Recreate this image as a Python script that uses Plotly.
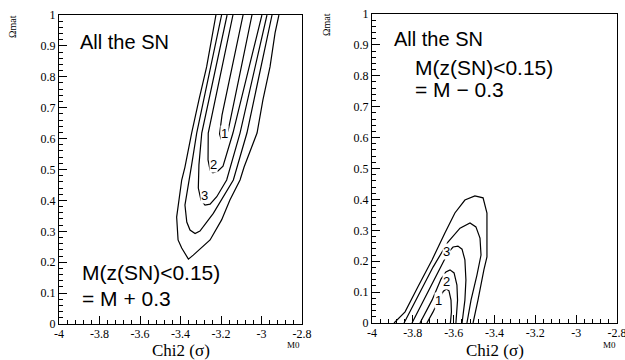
import plotly.graph_objects as go

# ---------------- axis ticks ----------------
X_TICKS = [-4, -3.8, -3.6, -3.4, -3.2, -3, -2.8]
X_TICKTEXT = ["-4", "-3.8", "-3.6", "-3.4", "-3.2", "-3", "-2.8"]
Y_TICKS = [0, 0.1, 0.2, 0.3, 0.4, 0.5, 0.6, 0.7, 0.8, 0.9, 1]
Y_TICKTEXT = ["0", "0.1", "0.2", "0.3", "0.4", "0.5", "0.6", "0.7", "0.8", "0.9", "1"]

# ---------------- left panel contours (M0, Omega_mat) ----------------
L1_X = [-3.091, -3.151, -3.195, -3.207, -3.200, -3.185, -3.165, -3.106, -3.047]
L1_Y = [1.0, 0.809, 0.676, 0.615, 0.599, 0.605, 0.625, 0.812, 1.0]

L2_X = [-3.141, -3.263, -3.264, -3.254, -3.240, -3.215, -3.190, -3.141, -2.998]
L2_Y = [1.0, 0.618, 0.531, 0.498, 0.489, 0.495, 0.511, 0.618, 1.0]

L3_X = [-3.170, -3.295, -3.309, -3.312, -3.299, -3.279, -3.254, -3.221, -3.172, -3.106, -2.973]
L3_Y = [1.0, 0.618, 0.515, 0.440, 0.401, 0.385, 0.388, 0.412, 0.466, 0.618, 1.0]

L4_X = [-3.197, -3.320, -3.345, -3.361, -3.378, -3.369, -3.353, -3.328, -3.304, -3.238, -3.139, -3.072, -2.948]
L4_Y = [1.0, 0.618, 0.515, 0.450, 0.385, 0.330, 0.304, 0.293, 0.301, 0.358, 0.466, 0.618, 1.0]

L5_X = [-3.225, -3.240, -3.271, -3.309, -3.345, -3.378, -3.394, -3.419, -3.412, -3.394, -3.361,
        -3.337, -3.254, -3.197, -3.156, -3.106, -3.086, -3.022, -2.993, -2.958, -2.933, -2.914]
L5_Y = [1.0, 0.942, 0.832, 0.725, 0.618, 0.508, 0.466, 0.346, 0.272, 0.246, 0.210,
        0.223, 0.272, 0.337, 0.401, 0.466, 0.508, 0.618, 0.725, 0.832, 0.942, 1.0]

# ---------------- right panel contours ----------------
R1_X = [-3.731, -3.701, -3.667, -3.650, -3.636, -3.623, -3.613, -3.611, -3.616]
R1_Y = [0.0, 0.036, 0.084, 0.103, 0.110, 0.104, 0.074, 0.036, 0.0]

R2_X = [-3.765, -3.706, -3.662, -3.638, -3.618, -3.598, -3.584, -3.581, -3.589]
R2_Y = [0.0, 0.074, 0.142, 0.165, 0.172, 0.162, 0.123, 0.074, 0.0]

R3_X = [-3.804, -3.740, -3.677, -3.628, -3.603, -3.579, -3.559, -3.545, -3.540, -3.545, -3.559]
R3_Y = [0.0, 0.084, 0.168, 0.227, 0.246, 0.249, 0.239, 0.204, 0.139, 0.074, 0.0]

R4_X = [-3.843, -3.775, -3.701, -3.628, -3.569, -3.520, -3.491, -3.471, -3.466, -3.486, -3.515, -3.535]
R4_Y = [0.0, 0.087, 0.181, 0.262, 0.307, 0.324, 0.311, 0.275, 0.220, 0.155, 0.074, 0.0]

R5_X = [-3.892, -3.838, -3.775, -3.706, -3.643, -3.594, -3.545, -3.496, -3.456, -3.437, -3.437,
        -3.452, -3.481, -3.505]
R5_Y = [0.0, 0.036, 0.117, 0.204, 0.291, 0.356, 0.398, 0.411, 0.405, 0.356, 0.214,
        0.172, 0.074, 0.0]

# contour level labels: (text, x, y)
LEFT_LABELS = [("1", -3.185, 0.618), ("2", -3.235, 0.515), ("3", -3.281, 0.417)]
RIGHT_LABELS = [("1", -3.675, 0.074), ("2", -3.633, 0.133), ("3", -3.633, 0.233)]

W, H = 625, 360
SERIF = "Liberation Serif, Times New Roman, serif"
SANS = "Liberation Sans, Arial, Helvetica, sans-serif"

fig = go.Figure()

line_style = dict(color="black", width=1.2)
for xs, ys in [(L1_X, L1_Y), (L2_X, L2_Y), (L3_X, L3_Y), (L4_X, L4_Y), (L5_X, L5_Y)]:
    fig.add_trace(go.Scatter(x=xs, y=ys, mode="lines", line=line_style,
                             xaxis="x", yaxis="y", showlegend=False, hoverinfo="skip"))
for xs, ys in [(R1_X, R1_Y), (R2_X, R2_Y), (R3_X, R3_Y), (R4_X, R4_Y), (R5_X, R5_Y)]:
    fig.add_trace(go.Scatter(x=xs, y=ys, mode="lines", line=line_style,
                             xaxis="x2", yaxis="y2", showlegend=False, hoverinfo="skip"))


def px_x(p):
    return p / W


def px_y(p):
    return 1 - p / H


def xaxis_cfg(domain, anchor):
    return dict(domain=domain, anchor=anchor, range=[-4, -2.8],
                tickmode="array", tickvals=X_TICKS, ticktext=X_TICKTEXT,
                ticks="inside", ticklen=8, tickwidth=1, tickcolor="black",
                minor=dict(tick0=-4, dtick=0.04, ticks="inside", ticklen=4,
                           tickcolor="black", tickwidth=1),
                showline=True, linecolor="black", linewidth=1.3, mirror=True,
                showgrid=False, zeroline=False, ticklabeloverflow="allow",
                ticklabelstandoff=-2,
                tickfont=dict(family=SERIF, size=12, color="black"))


def yaxis_cfg(domain, anchor):
    return dict(domain=domain, anchor=anchor, range=[0, 1],
                tickmode="array", tickvals=Y_TICKS, ticktext=Y_TICKTEXT,
                ticks="inside", ticklen=8, tickwidth=1, tickcolor="black",
                minor=dict(tick0=0, dtick=0.02, ticks="inside", ticklen=4,
                           tickcolor="black", tickwidth=1),
                showline=True, linecolor="black", linewidth=1.3, mirror=True,
                showgrid=False, zeroline=False, ticklabeloverflow="allow",
                tickfont=dict(family=SERIF, size=12, color="black"))


annotations = []
# contour labels
for txt, x, y in LEFT_LABELS:
    annotations.append(dict(x=x, y=y, xref="x", yref="y", text=txt, showarrow=False,
                            font=dict(family=SANS, size=13, color="black"),
                            bgcolor="white", borderpad=0))
for txt, x, y in RIGHT_LABELS:
    annotations.append(dict(x=x, y=y, xref="x2", yref="y2", text=txt, showarrow=False,
                            font=dict(family=SANS, size=13, color="black"),
                            bgcolor="white", borderpad=0))

f_sn = dict(family=SANS, size=20, color="black")
f_m = dict(family=SANS, size=21, color="black")
annotations += [
    dict(x=-3.906, y=0.913, xref="x", yref="y", text="All the SN", showarrow=False,
         xanchor="left", yanchor="middle", font=f_sn),
    dict(x=-3.896, y=0.168, xref="x", yref="y", text="M(z(SN)<0.15)", showarrow=False,
         xanchor="left", yanchor="middle", font=f_m),
    dict(x=-3.896, y=0.081, xref="x", yref="y", text="= M + 0.3", showarrow=False,
         xanchor="left", yanchor="middle", font=f_m),
    dict(x=-3.902, y=0.919, xref="x2", yref="y2", text="All the SN", showarrow=False,
         xanchor="left", yanchor="middle", font=f_sn),
    dict(x=-3.799, y=0.828, xref="x2", yref="y2", text="M(z(SN)<0.15)", showarrow=False,
         xanchor="left", yanchor="middle", font=f_m),
    dict(x=-3.799, y=0.757, xref="x2", yref="y2", text="= M \u2212 0.3", showarrow=False,
         xanchor="left", yanchor="middle", font=f_m),
]

# axis titles
for cx in (180.5, 494.5):
    annotations.append(dict(x=px_x(cx), y=px_y(350), xref="paper", yref="paper",
                            text="Chi2 (\u03c3)", showarrow=False,
                            xanchor="center", yanchor="middle",
                            font=dict(family=SERIF, size=17, color="black")))
for cx in (293.5, 609):
    annotations.append(dict(x=px_x(cx), y=px_y(345), xref="paper", yref="paper",
                            text="M0", showarrow=False,
                            xanchor="center", yanchor="middle",
                            font=dict(family=SERIF, size=9, color="black")))
for cx, cy in ((13, 27), (327, 25)):
    annotations.append(dict(x=px_x(cx), y=px_y(cy), xref="paper", yref="paper",
                            text="\u03a9mat", showarrow=False, textangle=-90,
                            xanchor="center", yanchor="middle",
                            font=dict(family=SERIF, size=10, color="black")))

fig.update_layout(
    width=W, height=H,
    margin=dict(l=0, r=0, t=0, b=0, autoexpand=False),
    paper_bgcolor="white", plot_bgcolor="white",
    showlegend=False,
    xaxis=xaxis_cfg([px_x(59), px_x(302)], "y"),
    yaxis=yaxis_cfg([px_y(324), px_y(15)], "x"),
    xaxis2=xaxis_cfg([px_x(372), px_x(617)], "y2"),
    yaxis2=yaxis_cfg([px_y(323), px_y(14)], "x2"),
    annotations=annotations,
)

fig.write_html("out.html", config={"displayModeBar": False},
               post_script="document.body.style.margin='0';")
